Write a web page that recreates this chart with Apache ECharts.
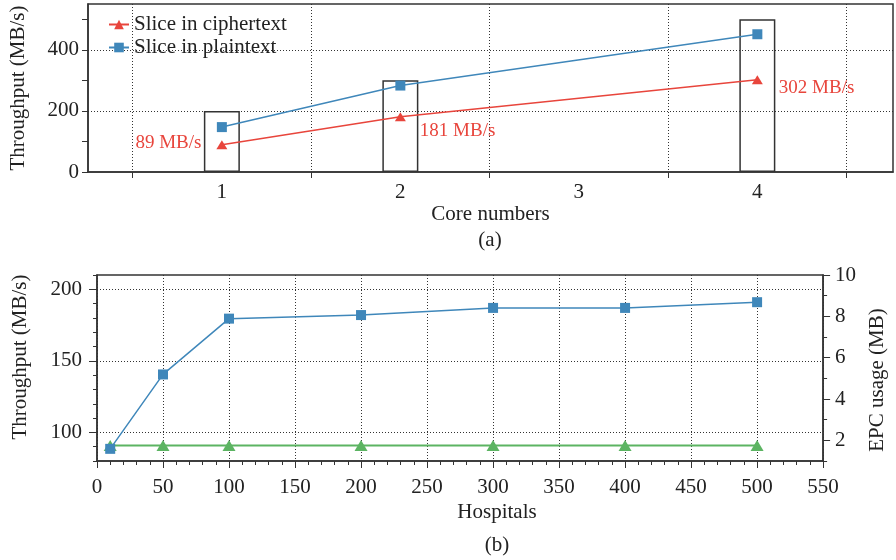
<!DOCTYPE html>
<html>
<head>
<meta charset="utf-8">
<script src="https://cdn.jsdelivr.net/npm/echarts@6/dist/echarts.min.js"></script>
<style>
html, body { margin: 0; padding: 0; background: #fff; }
#main { width: 896px; height: 560px; }
</style>
</head>
<body>
<div id="main"></div>
<script>
// (a) throughput vs number of cores
let cores = [1, 2, 4];
let coreLabels = [1, 2, 3, 4];
let coreBounds = [0.5, 1.5, 2.5, 3.5, 4.5];
let cipher = [89, 181, 302];
let plain = [147, 283, 451];
let boxes = [200, 300, 500];
let cipherText = ['89 MB/s', '181 MB/s', '302 MB/s'];
let tpTicksA = [0, 100, 200, 300, 400, 500];
let tpLabelsA = [0, 200, 400];

// (b) throughput and EPC usage vs hospitals
let hospitals = [10, 50, 100, 200, 300, 400, 500];
let throughput = [88.5, 140.5, 179.5, 182, 187, 187, 191];
let epcUsage = [1.75, 1.75, 1.75, 1.75, 1.75, 1.75, 1.75];
let tpLabelsB = [100, 150, 200];
let epcLabels = [2, 4, 6, 8, 10];

let chartDom = document.getElementById('main');
let myChart = echarts.init(chartDom);

let serif = '"Liberation Serif", "DejaVu Serif", serif';
let ink = '#222';
let red = '#e8453c';
let blue = '#3f87ba';
let green = '#5cb462';
let axisLine = { lineStyle: { color: '#333', width: 1.5 } };
let dots = { show: true, lineStyle: { type: [1, 2], color: '#333', width: 1 } };
let tickText = { color: ink, fontSize: 21, fontFamily: serif };
let nameText = { color: ink, fontSize: 21, fontFamily: serif };

let option = {
    animation: false,
    backgroundColor: '#fff',
    legend: {
        data: ['Slice in ciphertext', 'Slice in plaintext'],
        orient: 'vertical',
        left: 103,
        top: 9,
        itemWidth: 20,
        itemHeight: 12,
        itemGap: 2,
        textStyle: { color: ink, fontSize: 21, fontFamily: serif }
    },
    grid: [
        { left: 88, right: 3, top: 4, height: 168, show: true, borderColor: '#333', borderWidth: 1.5 },
        { left: 97, right: 64, top: 275, height: 186, show: true, borderColor: '#333', borderWidth: 1.5 }
    ],
    xAxis: [
        {
            gridIndex: 0, type: 'value', min: 0.25, max: 4.76,
            axisLine: axisLine,
            axisTick: { customValues: coreBounds, length: 6, lineStyle: { color: '#333' } },
            axisLabel: Object.assign({ customValues: coreLabels, margin: 10 }, tickText),
            splitLine: dots,
            name: 'Core numbers', nameLocation: 'middle', nameGap: 32, nameTextStyle: nameText
        },
        {
            gridIndex: 1, type: 'value', min: 0, max: 550, interval: 50, position: 'bottom',
            axisLine: axisLine,
            axisTick: { length: 7, lineStyle: { color: '#333' } },
            minorTick: { show: true, splitNumber: 5, length: 4, lineStyle: { color: '#333' } },
            axisLabel: Object.assign({ margin: 16 }, tickText),
            splitLine: dots
        }
    ],
    yAxis: [
        {
            gridIndex: 0, type: 'value', min: 0, max: 550, position: 'left',
            axisLine: axisLine,
            axisTick: { customValues: tpTicksA, length: 6, lineStyle: { color: '#333' } },
            axisLabel: Object.assign({ customValues: tpLabelsA, margin: 9 }, tickText),
            splitLine: { show: false },
            name: 'Throughput (MB/s)', nameLocation: 'middle', nameGap: 59, nameTextStyle: nameText
        },
        {
            // gridlines only
            gridIndex: 0, type: 'value', min: 0, max: 550, position: 'left',
            axisLine: { show: false },
            axisTick: { show: false, customValues: [200, 400] },
            axisLabel: { show: false },
            splitLine: dots
        },
        {
            gridIndex: 1, type: 'value', min: 80, max: 210, position: 'left',
            axisLine: axisLine,
            axisTick: { customValues: tpLabelsB, length: 8, lineStyle: { color: '#333' } },
            axisLabel: Object.assign({ customValues: tpLabelsB, margin: 15 }, tickText),
            splitLine: dots,
            name: 'Throughput (MB/s)', nameLocation: 'middle', nameGap: 66,
            nameTextStyle: Object.assign({ padding: [0, 0, 0, 22] }, nameText)
        },
        {
            gridIndex: 1, type: 'value', min: 80, max: 210, interval: 10, position: 'left',
            axisLine: { show: false },
            axisTick: { length: 4, lineStyle: { color: '#333' } },
            axisLabel: { show: false },
            splitLine: { show: false }
        },
        {
            gridIndex: 1, type: 'value', min: 1, max: 10, position: 'right',
            axisLine: axisLine,
            axisTick: { customValues: epcLabels, length: 7, lineStyle: { color: '#333' } },
            axisLabel: Object.assign({ customValues: epcLabels, margin: 12 }, tickText),
            splitLine: { show: false },
            name: 'EPC usage (MB)', nameLocation: 'middle', nameGap: 42,
            nameTextStyle: Object.assign({ padding: [0, 24, 0, 0] }, nameText)
        },
        {
            gridIndex: 1, type: 'value', min: 1, max: 10, interval: 1, position: 'right',
            axisLine: { show: false },
            axisTick: { length: 4, lineStyle: { color: '#333' } },
            axisLabel: { show: false },
            splitLine: { show: false }
        }
    ],
    graphic: [
        { type: 'text', x: 490, y: 240, style: { text: '(a)', textAlign: 'center', textVerticalAlign: 'middle', font: '21px ' + serif, fill: ink } },
        { type: 'text', x: 497, y: 512, style: { text: 'Hospitals', textAlign: 'center', textVerticalAlign: 'middle', font: '21px ' + serif, fill: ink } },
        { type: 'text', x: 497, y: 545, style: { text: '(b)', textAlign: 'center', textVerticalAlign: 'middle', font: '21px ' + serif, fill: ink } }
    ],
    series: [
        {
            type: 'bar', xAxisIndex: 0, yAxisIndex: 0, silent: true, z: 1,
            barWidth: 36,
            itemStyle: { color: 'rgba(0,0,0,0)', borderColor: '#333', borderWidth: 1.5 },
            data: cores.map((c, i) => [c, boxes[i]])
        },
        {
            name: 'Slice in ciphertext', type: 'line', xAxisIndex: 0, yAxisIndex: 0, z: 3,
            symbol: 'triangle', symbolSize: [11, 9],
            lineStyle: { color: red, width: 1.5 },
            itemStyle: { color: red },
            label: {
                show: true, color: red, fontSize: 19, fontFamily: serif,
                formatter: p => cipherText[p.dataIndex]
            },
            data: cores.map((c, i) => ({
                value: [c, cipher[i]],
                label: i === 0
                    ? { position: 'left', distance: 15, offset: [0, -2] }
                    : { position: 'right', distance: i === 1 ? 14 : 16, offset: [0, i === 1 ? 14 : 8] }
            }))
        },
        {
            name: 'Slice in plaintext', type: 'line', xAxisIndex: 0, yAxisIndex: 0, z: 3,
            symbol: 'rect', symbolSize: 10,
            lineStyle: { color: blue, width: 1.5 },
            itemStyle: { color: blue },
            data: cores.map((c, i) => [c, plain[i]])
        },
        {
            type: 'line', xAxisIndex: 1, yAxisIndex: 4, z: 3,
            symbol: 'triangle', symbolSize: [13, 11],
            lineStyle: { color: green, width: 2 },
            itemStyle: { color: green },
            data: hospitals.map((h, i) => [h, epcUsage[i]])
        },
        {
            type: 'line', xAxisIndex: 1, yAxisIndex: 2, z: 4,
            symbol: 'rect', symbolSize: 10,
            lineStyle: { color: blue, width: 1.5 },
            itemStyle: { color: blue },
            data: hospitals.map((h, i) => [h, throughput[i]])
        }
    ]
};

option && myChart.setOption(option);
</script>
</body>
</html>
